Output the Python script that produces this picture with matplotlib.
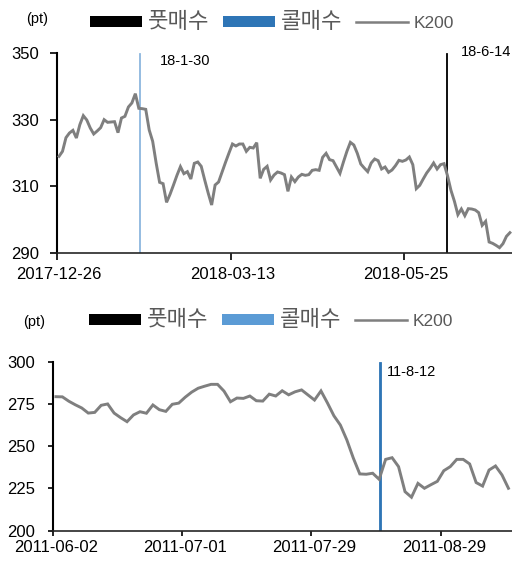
import numpy as np
import matplotlib
matplotlib.use("Agg")
import matplotlib.pyplot as plt
from matplotlib.patches import Patch
from matplotlib.lines import Line2D

plt.rcParams['font.family'] = ['Liberation Sans', 'Noto Sans CJK KR']

# top panel: 2017-12-26 ~ 2018-07, K200 close (pt), one value per trading day
top_k200 = [319, 320.5, 324.6, 326, 326.8, 324.5, 328.5, 331.2, 329.9, 327.5,
            325.7, 326.6, 327.6, 330, 329.2, 329.3, 329.4, 326.1, 330.5, 331,
            333.8, 335, 337.8, 333.4, 333.3, 333.1, 326.9, 323.5, 317, 311.2,
            310.8, 305.2, 307.6, 310.4, 313.3, 315.9, 313.8, 314.4, 312.2, 316.9,
            317.3, 316, 311.9, 308, 304.4, 310.4, 311.3, 314.3, 317.2, 320,
            322.7, 322.1, 322.7, 322.7, 320.5, 321.7, 321.5, 323.1, 312.4, 315.1,
            316, 311.9, 313.4, 314.3, 314, 313.5, 308.5, 312.8, 311.4, 312.8,
            313.6, 313.3, 313.5, 314.8, 315, 314.8, 318.7, 319.9, 318, 317.7,
            315.8, 313.9, 317.3, 320.5, 323.2, 322.4, 319.9, 316.7, 315.5, 314.4,
            317, 318.2, 317.7, 315.2, 315.8, 314.2, 314.9, 316.2, 317.8, 317.5,
            317.9, 318.8, 316.5, 309.3, 310.3, 312.2, 314, 315.4, 317, 315.2,
            316.5, 316.8, 313.2, 308.8, 305.5, 301.5, 303.2, 301.2, 303.3, 303.2,
            302.9, 302.1, 298.3, 299.5, 293.3, 292.9, 292.3, 291.6, 292.8, 295,
            296.1]
top_tick_pos = [0, 50, 100]
top_tick_labels = ['2017-12-26', '2018-03-13', '2018-05-25']
top_fut_days = [112]   # 18-6-14
top_call_days = [23]   # 18-1-30

# bottom panel: 2011-06-02 ~ 2011-09
bot_k200 = [279.3, 279.2, 276.6, 274.5, 272.6, 269.6, 270, 274.2, 275, 269.6,
            266.9, 264.5, 268.5, 270.4, 269.5, 274.4, 271.6, 270.6, 274.8, 275.5,
            279, 282, 284.3, 285.5, 286.6, 286.6, 282.6, 276.3, 278.5, 278.3,
            279.7, 276.9, 276.7, 280.8, 279.7, 282.8, 280.4, 282.2, 283.3, 280.3,
            277.3, 282.7, 275.6, 268, 262.5, 253.7, 243, 233.6, 233.4, 234,
            230.4, 242.2, 243.2, 237.9, 223.1, 219.8, 228, 225.1, 227.2, 229.2,
            235.5, 237.9, 242.2, 242.2, 239.5, 228.5, 226.4, 235.9, 238.3, 233,
            225.1]
bot_tick_pos = [0, 20, 40, 60]
bot_tick_labels = ['2011-06-02', '2011-07-01', '2011-07-29', '2011-08-29']
bot_fut_days = []
bot_call_days = [50]   # 11-8-12

LINE_C = '#7f7f7f'
TXT_GREY = '#595959'


def draw_panel(rect, k200, tick_pos, tick_labels, fut_days, call_days, ylim, yticks,
               xright, call_bar_c, call_leg_c, bar_w, fut_w, notes, legend_xy, pt_xy,
               tick_len, ypad, xpad):
    ax = fig.add_axes(rect)
    n = len(k200)
    x = np.arange(n)
    fut = np.zeros(n)
    fut[fut_days] = 1
    call = np.zeros(n)
    call[call_days] = 1

    # signal bars on a hidden 0-1 axis
    ax2 = ax.twinx()
    ax2.bar(x - bar_w / 2, fut, width=fut_w, color='black', edgecolor='black',
            linewidth=0.6)
    ax2.bar(x + bar_w / 2, call, width=bar_w, color=call_bar_c, edgecolor=call_bar_c,
            linewidth=0.6)
    ax2.set_ylim(0, 1)
    ax2.axis('off')

    ax.plot(x, k200, color=LINE_C, lw=2.1, zorder=3, solid_joinstyle='miter')
    ax.set_zorder(ax2.get_zorder() + 1)
    ax.patch.set_visible(False)

    ax.set_xlim(-0.5, xright)
    ax2.set_xlim(-0.5, xright)
    ax.set_ylim(*ylim)
    ax.set_yticks(yticks)
    ax.set_yticklabels([str(v) for v in yticks], fontsize=12)
    ax.set_xticks([p - 0.5 for p in tick_pos])
    ax.set_xticklabels([])
    ax.set_xticks(tick_pos, minor=True)
    ax.set_xticklabels(tick_labels, minor=True, fontsize=12)
    ax.tick_params(axis='x', which='major', length=tick_len, width=1.2, color='black')
    ax.tick_params(axis='x', which='minor', length=0, pad=xpad)
    ax.tick_params(axis='y', length=tick_len, width=1.2, pad=ypad)
    for s in ['top', 'right']:
        ax.spines[s].set_visible(False)
    ax.spines['left'].set_linewidth(1.5)
    ax.spines['bottom'].set_linewidth(1.2)
    ax.spines['bottom'].set_color('#262626')

    for xt, yt, s in notes:
        ax.text(xt, yt, s, fontsize=10.5, va='center', ha='left', clip_on=False)

    handles = [Patch(facecolor='black'), Patch(facecolor=call_leg_c),
               Line2D([], [], color=LINE_C, lw=1.8)]
    leg = fig.legend(handles, ['풋매수', '콜매수', 'K200'], loc='center left',
                     bbox_to_anchor=legend_xy, ncol=3, frameon=False, fontsize=13,
                     handlelength=2.9, handleheight=0.55, handletextpad=0.3,
                     columnspacing=0.75, borderpad=0, borderaxespad=0)
    for t in leg.get_texts():
        t.set_color(TXT_GREY)
    leg.get_texts()[0].set_fontsize(16)
    leg.get_texts()[1].set_fontsize(16)
    leg.get_texts()[2].set_fontsize(12.5)
    fig.text(pt_xy[0], pt_xy[1], '(pt)', fontsize=10.5, ha='center', va='center')
    return ax


fig = plt.figure(figsize=(5.12, 5.66), dpi=100)

draw_panel([57.3 / 512, 1 - 253 / 566, (512 - 57.3) / 512, 200 / 566],
           top_k200, top_tick_pos, top_tick_labels, top_fut_days, top_call_days,
           (290, 350), [290, 310, 330, 350], 130.6,
           '#8fb8df', '#2e75b6', 0.45, 0.3,
           [(29.1, 347.6, '18-1-30'), (115.9, 350.3, '18-6-14')],
           (90 / 512, 1 - 22.5 / 566), (37 / 512, 1 - 19 / 566),
           5, 8, 10)

draw_panel([52.7 / 512, 1 - 530.7 / 566, (512 - 52.7) / 512, 169 / 566],
           bot_k200, bot_tick_pos, bot_tick_labels, bot_fut_days, bot_call_days,
           (200, 300), [200, 225, 250, 275, 300], 70.55,
           '#2e75b6', '#5b9bd5', 0.35, 0.3,
           [(51.2, 293.9, '11-8-12')],
           (89 / 512, 1 - 320 / 566), (34 / 512, 1 - 322 / 566),
           3.5, 9, 6.5)

fig.savefig('out.png', dpi=100)
